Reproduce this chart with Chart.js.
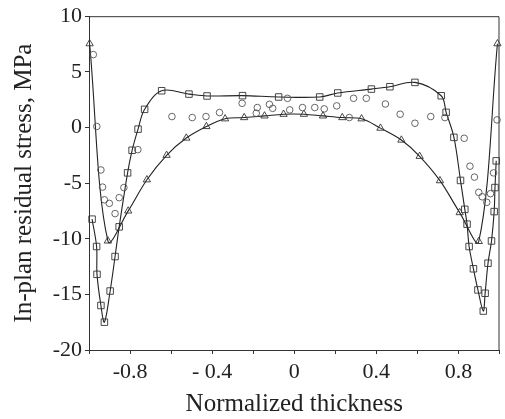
<!DOCTYPE html>
<html>
<head>
<meta charset="utf-8">
<script src="https://cdn.jsdelivr.net/npm/chart.js@4"></script>
<style>
html, body { margin: 0; padding: 0; background: #fff; }
</style>
</head>
<body>
<canvas id="grafica" width="505" height="419"></canvas>
<script>
// valores
const squareX = [-0.985, -0.963, -0.961, -0.942, -0.925, -0.897, -0.873, -0.853, -0.812, -0.790, -0.761, -0.729, -0.646, -0.513, -0.425,
    -0.252, -0.076, 0.124, 0.212, 0.376, 0.466, 0.588, 0.716, 0.740, 0.778, 0.810, 0.831, 0.842, 0.852, 0.873, 0.895, 0.921, 0.930,
    0.944, 0.961, 0.974, 0.978, 0.984];
const squareY = [-8.24, -10.7, -13.2, -16.0, -17.5, -14.7, -11.6, -8.93, -4.08, -2.05, -0.15, 1.63, 3.30, 3.0, 2.83,
    2.86, 2.74, 2.74, 3.1, 3.45, 3.66, 4.05, 2.85, 1.36, -0.89, -4.76, -7.36, -8.69, -10.7, -12.7, -14.6, -16.5, -14.9,
    -12.2, -10.2, -7.56, -5.4, -3.0];

const triangleX = [-0.997, -0.908, -0.809, -0.718, -0.622, -0.526, -0.428, -0.337, -0.244, -0.145, -0.052, 0.047, 0.140, 0.234,
    0.328, 0.420, 0.522, 0.611, 0.710, 0.806, 0.899, 0.990];
const triangleY = [7.53, -10.2, -7.5, -4.7, -2.5, -0.95, 0.09, 0.78, 0.89, 1.04, 1.19, 1.19, 1.04, 0.89,
    0.78, -0.06, -1.13, -2.59, -4.78, -7.65, -10.24, 7.53];

const circleX = [-0.979, -0.962, -0.942, -0.934, -0.925, -0.901, -0.873, -0.853, -0.830, -0.762, -0.596, -0.497, -0.430, -0.364,
    -0.254, -0.185, -0.180, -0.121, -0.105, -0.033, -0.022, 0.040, 0.100, 0.146, 0.207, 0.268, 0.289, 0.351, 0.444, 0.516,
    0.588, 0.665, 0.734, 0.828, 0.856, 0.878, 0.899, 0.916, 0.938, 0.956, 0.971, 0.988];
const circleY = [6.55, 0.09, -3.82, -5.36, -6.5, -6.82, -7.74, -6.31, -5.4, -1.99, 0.98, 0.89, 0.98, 1.34,
    2.17, 1.28, 1.79, 2.08, 1.72, 2.62, 1.58, 1.79, 1.79, 1.67, 1.94, 0.89, 2.62, 2.62, 2.11, 1.19,
    0.38, 0.98, 0.89, -0.97, -3.48, -4.46, -5.83, -6.23, -6.73, -5.95, -4.08, 0.68];

const xTickValues = [-1, -0.8, -0.6, -0.4, -0.2, 0, 0.2, 0.4, 0.6, 0.8, 1];
const xTickLabels = ['', '-0.8', '', '- 0.4', '', '0', '', '0.4', '', '0.8', ''];

const puntos = (xs, ys) => xs.map((x, i) => ({ x: x, y: ys[i] }));

const marco = {
    id: 'marco',
    afterDatasetsDraw(chart) {
        const a = chart.chartArea;
        const ctx = chart.ctx;
        ctx.save();
        ctx.strokeStyle = '#333';
        ctx.lineWidth = 1;
        ctx.beginPath();
        ctx.moveTo(a.left, a.top + 0.5);
        ctx.lineTo(a.right - 0.5, a.top + 0.5);
        ctx.lineTo(a.right - 0.5, a.bottom);
        ctx.stroke();
        ctx.restore();
    }
};

const serif = 'Liberation Serif, Times New Roman, serif';

new Chart(document.getElementById('grafica'), {
    type: 'scatter',
    data: {
        datasets: [{
            data: puntos(circleX, circleY),
            pointStyle: 'circle',
            pointRadius: 3.3,
            borderColor: '#555',
            backgroundColor: 'rgba(0,0,0,0)',
            borderWidth: 0.9,
            showLine: false,
            clip: false
        }, {
            data: puntos(triangleX, triangleY),
            pointStyle: 'triangle',
            pointRadius: 4.2,
            pointBorderColor: '#333',
            pointBackgroundColor: 'rgba(0,0,0,0)',
            pointBorderWidth: 0.9,
            borderColor: '#222',
            borderWidth: 1.1,
            showLine: true,
            tension: 0.35,
            clip: false
        }, {
            data: puntos(squareX, squareY),
            pointStyle: 'rect',
            pointRadius: 4.6,
            pointBorderColor: '#333',
            pointBackgroundColor: 'rgba(0,0,0,0)',
            pointBorderWidth: 0.9,
            borderColor: '#222',
            borderWidth: 1.1,
            showLine: true,
            tension: 0.35,
            clip: false
        }]
    },
    options: {
        responsive: false,
        animation: false,
        layout: { padding: { top: 14, right: 1, left: 0, bottom: 0 } },
        plugins: { legend: { display: false }, tooltip: { enabled: false } },
        scales: {
            x: {
                type: 'linear',
                min: -1,
                max: 1,
                afterBuildTicks: scale => { scale.ticks = xTickValues.map(v => ({ value: v })); },
                afterFit: scale => { scale.height = 69; },
                ticks: {
                    autoSkip: false,
                    maxRotation: 0,
                    padding: 5,
                    color: '#222',
                    font: { family: serif, size: 22 },
                    callback: (v, i) => xTickLabels[i]
                },
                grid: { drawOnChartArea: false, tickLength: 4, color: '#333' },
                border: { color: '#333', width: 1 },
                title: {
                    display: true,
                    text: 'Normalized thickness',
                    color: '#222',
                    font: { family: serif, size: 25 },
                    padding: { top: 0, bottom: 0 }
                }
            },
            y: {
                min: -20,
                max: 10,
                afterFit: scale => { scale.width = 89; },
                ticks: {
                    stepSize: 5,
                    padding: 3,
                    color: '#222',
                    font: { family: serif, size: 22 }
                },
                grid: { drawOnChartArea: false, tickLength: 4, color: '#333' },
                border: { color: '#333', width: 1 },
                title: {
                    display: true,
                    text: 'In-plan residual stress, MPa',
                    color: '#222',
                    font: { family: serif, size: 25 },
                    padding: { top: 9, bottom: 0 }
                }
            }
        }
    },
    plugins: [marco]
});
</script>
</body>
</html>
